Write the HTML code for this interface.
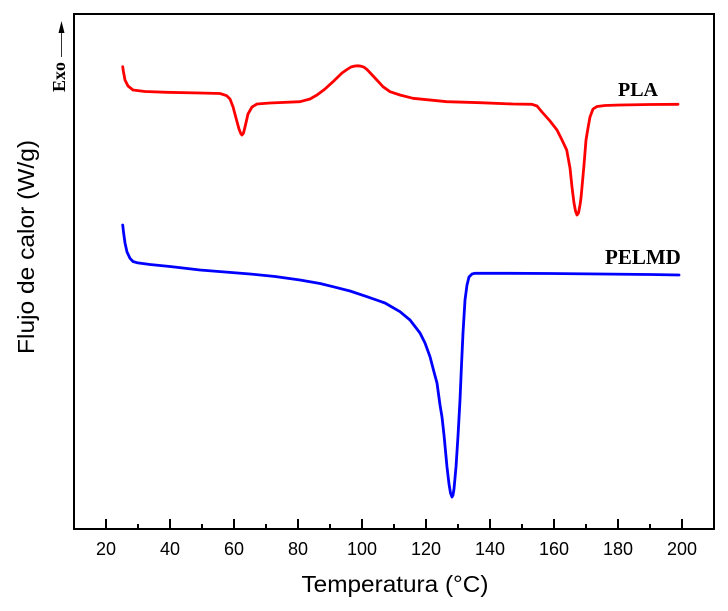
<!DOCTYPE html>
<html>
<head>
<meta charset="utf-8">
<style>
html,body{margin:0;padding:0;background:#ffffff;}
svg{display:block;}
</style>
</head>
<body>
<svg width="728" height="611" viewBox="0 0 728 611" xmlns="http://www.w3.org/2000/svg">
<rect x="0" y="0" width="728" height="611" fill="#ffffff"/>
<!-- frame -->
<rect x="74" y="14" width="640" height="515" fill="none" stroke="#000" stroke-width="2"/>
<!-- major ticks -->
<g stroke="#000" stroke-width="2">
<line x1="106" y1="529" x2="106" y2="519"/>
<line x1="170" y1="529" x2="170" y2="519"/>
<line x1="234" y1="529" x2="234" y2="519"/>
<line x1="298" y1="529" x2="298" y2="519"/>
<line x1="362" y1="529" x2="362" y2="519"/>
<line x1="426" y1="529" x2="426" y2="519"/>
<line x1="490" y1="529" x2="490" y2="519"/>
<line x1="554" y1="529" x2="554" y2="519"/>
<line x1="618" y1="529" x2="618" y2="519"/>
<line x1="682" y1="529" x2="682" y2="519"/>
<!-- minor -->
<line x1="138" y1="529" x2="138" y2="524"/>
<line x1="202" y1="529" x2="202" y2="524"/>
<line x1="266" y1="529" x2="266" y2="524"/>
<line x1="330" y1="529" x2="330" y2="524"/>
<line x1="394" y1="529" x2="394" y2="524"/>
<line x1="458" y1="529" x2="458" y2="524"/>
<line x1="522" y1="529" x2="522" y2="524"/>
<line x1="586" y1="529" x2="586" y2="524"/>
<line x1="650" y1="529" x2="650" y2="524"/>
</g>
<!-- tick labels -->
<g font-family="Liberation Sans, Arial, sans-serif" font-size="18" fill="#000" text-anchor="middle">
<text x="106" y="555">20</text>
<text x="170" y="555">40</text>
<text x="234" y="555">60</text>
<text x="298" y="555">80</text>
<text x="362" y="555">100</text>
<text x="426" y="555">120</text>
<text x="490" y="555">140</text>
<text x="554" y="555">160</text>
<text x="618" y="555">180</text>
<text x="682" y="555">200</text>
</g>
<!-- axis titles -->
<text x="395" y="592" font-family="Liberation Sans, Arial, sans-serif" font-size="23" text-anchor="middle" textLength="187" lengthAdjust="spacingAndGlyphs">Temperatura (°C)</text>
<text transform="translate(34,247) rotate(-90)" x="0" y="0" font-family="Liberation Sans, Arial, sans-serif" font-size="23" text-anchor="middle" textLength="214" lengthAdjust="spacingAndGlyphs">Flujo de calor (W/g)</text>
<!-- Exo arrow -->
<line x1="61.5" y1="30" x2="61.5" y2="57" stroke="#333" stroke-width="1"/>
<polygon points="61.5,21 58.5,33 64.5,33" fill="#000"/>
<text transform="translate(65,77) rotate(-90)" x="0" y="0" font-family="Liberation Serif, Times New Roman, serif" font-weight="bold" font-size="18" text-anchor="middle">Exo</text>
<!-- labels -->
<text x="618" y="96" font-family="Liberation Serif, Times New Roman, serif" font-weight="bold" font-size="20">PLA</text>
<text x="605" y="264" font-family="Liberation Serif, Times New Roman, serif" font-weight="bold" font-size="21">PELMD</text>
<!-- PLA curve -->
<polyline fill="none" stroke="#ff0000" stroke-width="2.8" stroke-linejoin="round" stroke-linecap="round"
points="122.7,66.7 123.5,72 125,80 128,86 133,90 145,91.5 167,92.3 200,93 220,93.5 226.7,95.7 230,99 233,106.7 236,118 239,129 241,134 242,135 243.5,133 245,127 248,114 252,107 257,104 270,103 300,101.7 310,99 317,95 325,89 333,81.7 342,73 347,69.5 351,67 355,66 358,65.8 361,66.2 364,67.2 367,69.5 375,78 383,86.7 390,91.7 400,95 413,98.3 446.7,101.7 480,102.7 513,104 532,104.3 537,106 542,112 550,121 557,130 562,140 566.7,150 570,168 572,187 574,203 575.5,211 577,215 578.5,213 580,205 581,198 584,165 586,140 588,128 590,117 593,109 597,106.5 605,105.5 620,105 650,104.5 678,104.3"/>
<!-- PELMD curve -->
<polyline fill="none" stroke="#0000ff" stroke-width="2.8" stroke-linejoin="round" stroke-linecap="round"
points="122.7,225 123.5,232 125,243 127,252 130,258.3 133,261.5 137,262.7 150,264.5 170,266.5 200,270 225,272 250,274 275,276.5 300,280 320,283.5 333,286.7 350,291 367,296.7 385,303 400,311.7 410,320 420,333 425,343 430,356.7 434,372 437,383 440,405 442,417 444,435 447,467 449,484 450.5,493 452,497 453,495 454,489 456,467 458,436 460,400 461.5,365 463,333 465,300 467,285 469,277 472,274 475,273.3 500,273.3 550,273.5 600,274 650,274.5 679,275"/>
</svg>
</body>
</html>
